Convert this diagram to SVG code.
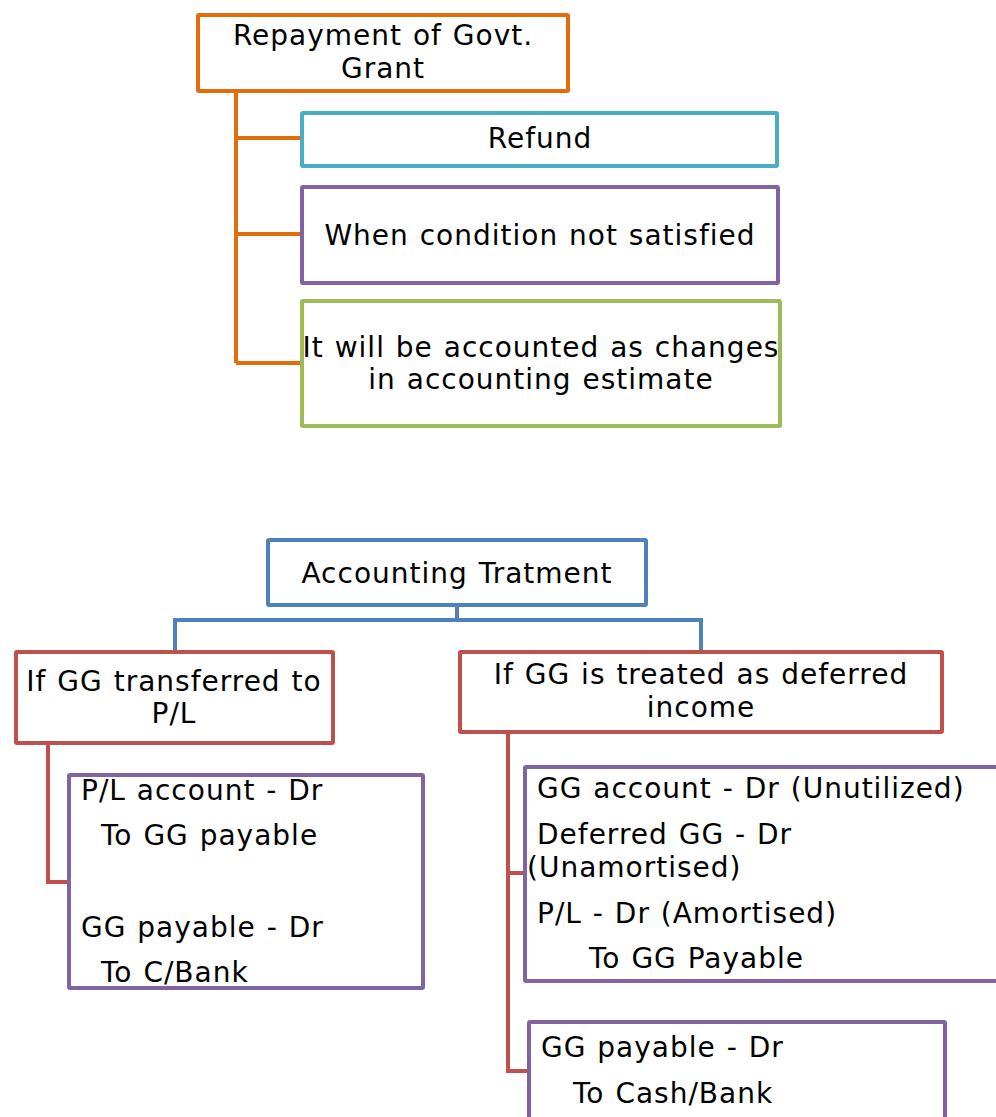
<svg xmlns="http://www.w3.org/2000/svg" width="996" height="1117" viewBox="0 0 996 1117">
  <style>
    .box { fill: #FFFFFF; stroke-width: 4; }
    .orange { stroke: #E46C0A; }
    .cyan { stroke: #4BACC6; }
    .purple { stroke: #8064A2; }
    .green { stroke: #9BBB59; }
    .blue { stroke: #4F81BD; }
    .red { stroke: #C0504D; }
    .link { fill: none; stroke-width: 4; stroke-linejoin: miter; }
    text { font-family: "DejaVu Sans", Verdana, sans-serif; font-size: 28px; letter-spacing: 1px; word-spacing: 1px; fill: #000000; }
    .c { text-anchor: middle; }
  </style>
  <rect x="0" y="0" width="996" height="1117" fill="#FFFFFF"/>

  <!-- connectors -->
  <g id="connectors">
    <path class="link orange" d="M236 91 V363 M236 138 H301 M236 234 H301 M236 363 H301"/>
    <path class="link blue" d="M457 606 V620 M175 651 V620 H701 V651"/>
    <path class="link red" d="M48 743 V882 H68"/>
    <path class="link red" d="M508 733 V1071 H528 M508 873 H524"/>
  </g>

  <!-- repayment tree -->
  <g id="repayment">
    <rect class="box orange" x="198" y="15" width="370" height="76" rx="1"/>
    <text class="c" x="383" y="45">Repayment of Govt.</text>
    <text class="c" x="383" y="78">Grant</text>
  </g>
  <g id="refund">
    <rect class="box cyan" x="302" y="113" width="475" height="53" rx="1"/>
    <text class="c" x="540" y="148">Refund</text>
  </g>
  <g id="condition">
    <rect class="box purple" x="302" y="187" width="476" height="96" rx="1"/>
    <text class="c" x="540" y="245">When condition not satisfied</text>
  </g>
  <g id="estimate">
    <rect class="box green" x="302" y="301" width="478" height="125" rx="1"/>
    <text class="c" x="541" y="357">It will be accounted as changes</text>
    <text class="c" x="541" y="389">in accounting estimate</text>
  </g>

  <!-- accounting treatment tree -->
  <g id="treatment">
    <rect class="box blue" x="268" y="540" width="378" height="65" rx="1"/>
    <text class="c" x="457" y="583">Accounting Tratment</text>
  </g>
  <g id="to-pl">
    <rect class="box red" x="16" y="652" width="317" height="91" rx="1"/>
    <text class="c" x="174" y="691">If GG transferred to</text>
    <text class="c" x="174" y="723">P/L</text>
  </g>
  <g id="to-pl-entries">
    <rect class="box purple" x="69" y="775" width="354" height="213" rx="1"/>
    <text x="81" y="800">P/L account - Dr</text>
    <text x="101" y="845">To GG payable</text>
    <text x="81" y="937">GG payable - Dr</text>
    <text x="101" y="982">To C/Bank</text>
  </g>
  <g id="deferred">
    <rect class="box red" x="460" y="652" width="482" height="80" rx="1"/>
    <text class="c" x="701" y="684">If GG is treated as deferred</text>
    <text class="c" x="701" y="717">income</text>
  </g>
  <g id="deferred-entries">
    <rect class="box purple" x="525" y="767" width="480" height="214" rx="1"/>
    <text x="537" y="798">GG account - Dr (Unutilized)</text>
    <text x="537" y="844">Deferred GG - Dr</text>
    <text x="527" y="877">(Unamortised)</text>
    <text x="537" y="923">P/L - Dr (Amortised)</text>
    <text x="589" y="968">To GG Payable</text>
  </g>
  <g id="settlement">
    <rect class="box purple" x="529" y="1022" width="416" height="110" rx="1"/>
    <text x="541" y="1057">GG payable - Dr</text>
    <text x="573" y="1103">To Cash/Bank</text>
  </g>
</svg>
